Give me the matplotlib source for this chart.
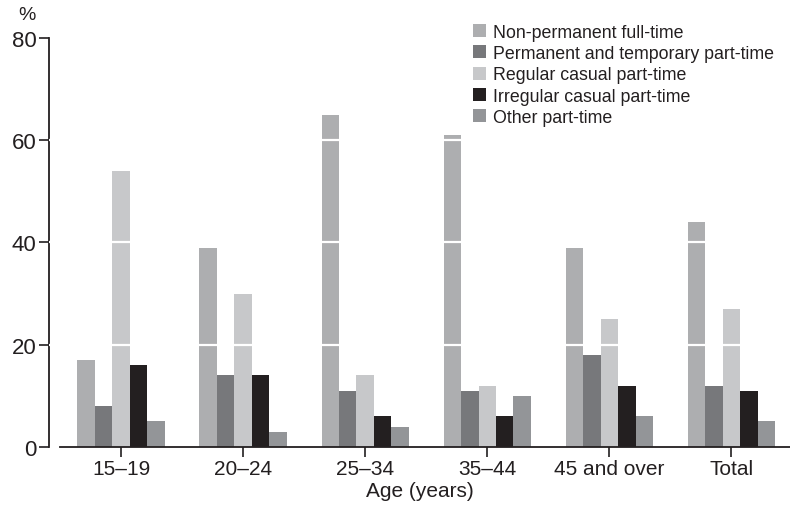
import matplotlib.pyplot as plt
import numpy as np

plt.rcParams['font.family'] = ['Liberation Sans', 'DejaVu Sans']

categorias = ['15–19', '20–24', '25–34', '35–44', '45 and over', 'Total']
series = ['Non-permanent full-time', 'Permanent and temporary part-time',
          'Regular casual part-time', 'Irregular casual part-time', 'Other part-time']
nao_permanente = [17, 39, 65, 61, 39, 44]
permanente_temp = [8, 14, 11, 11, 18, 12]
casual_regular = [54, 30, 14, 12, 25, 27]
casual_irregular = [16, 14, 6, 6, 12, 11]
outros = [5, 3, 4, 10, 6, 5]
cores = ['#adaeb0', '#77787b', '#c7c8ca', '#231f20', '#939598']

valores = [nao_permanente, permanente_temp, casual_regular, casual_irregular, outros]

fig = plt.figure(figsize=(7.9, 5.1), dpi=100)
ax = fig.add_axes([0.062, 0.1216, 0.938, 0.802])

x = np.arange(len(categorias))
largura = 0.143
for i, (serie, vals, cor) in enumerate(zip(series, valores, cores)):
    ax.bar(x + (i - 2) * largura, vals, width=largura, color=cor, label=serie, zorder=2)

# linhas brancas por cima das barras
for yv in [20, 40, 60]:
    ax.axhline(yv, color='white', linewidth=1.6, zorder=3)

ax.set_xlim(-0.59, 5.48)
ax.set_ylim(0, 80)
ax.set_yticks([0, 20, 40, 60, 80])
ax.set_xticks(x)
ax.set_xticklabels(categorias)
ax.tick_params(axis='y', labelsize=16)
ax.tick_params(axis='x', labelsize=15)

for s in ['top', 'right']:
    ax.spines[s].set_visible(False)
ax.spines['left'].set_color('#231f20')
ax.spines['bottom'].set_color('#231f20')
ax.spines['left'].set_linewidth(1.3)
ax.spines['bottom'].set_linewidth(1.3)
ax.spines['bottom'].set_bounds(-0.5, 5.48)
ax.tick_params(axis='both', direction='out', length=7, width=1.2, color='#231f20',
               labelcolor='#231f20', pad=2)

ax.set_xlabel('Age (years)', fontsize=15, color='#231f20', labelpad=2)
fig.text(0.034, 0.952, '%', fontsize=14, color='#231f20', ha='center', va='bottom')

leg = ax.legend(loc='upper left', bbox_to_anchor=(0.562, 1.052), frameon=False,
                prop={'size': 12.8},
                handlelength=0.75, handleheight=0.75, handletextpad=0.4,
                labelspacing=0.24, borderaxespad=0)
for t in leg.get_texts():
    t.set_color('#231f20')

plt.savefig('out.png', dpi=100)
